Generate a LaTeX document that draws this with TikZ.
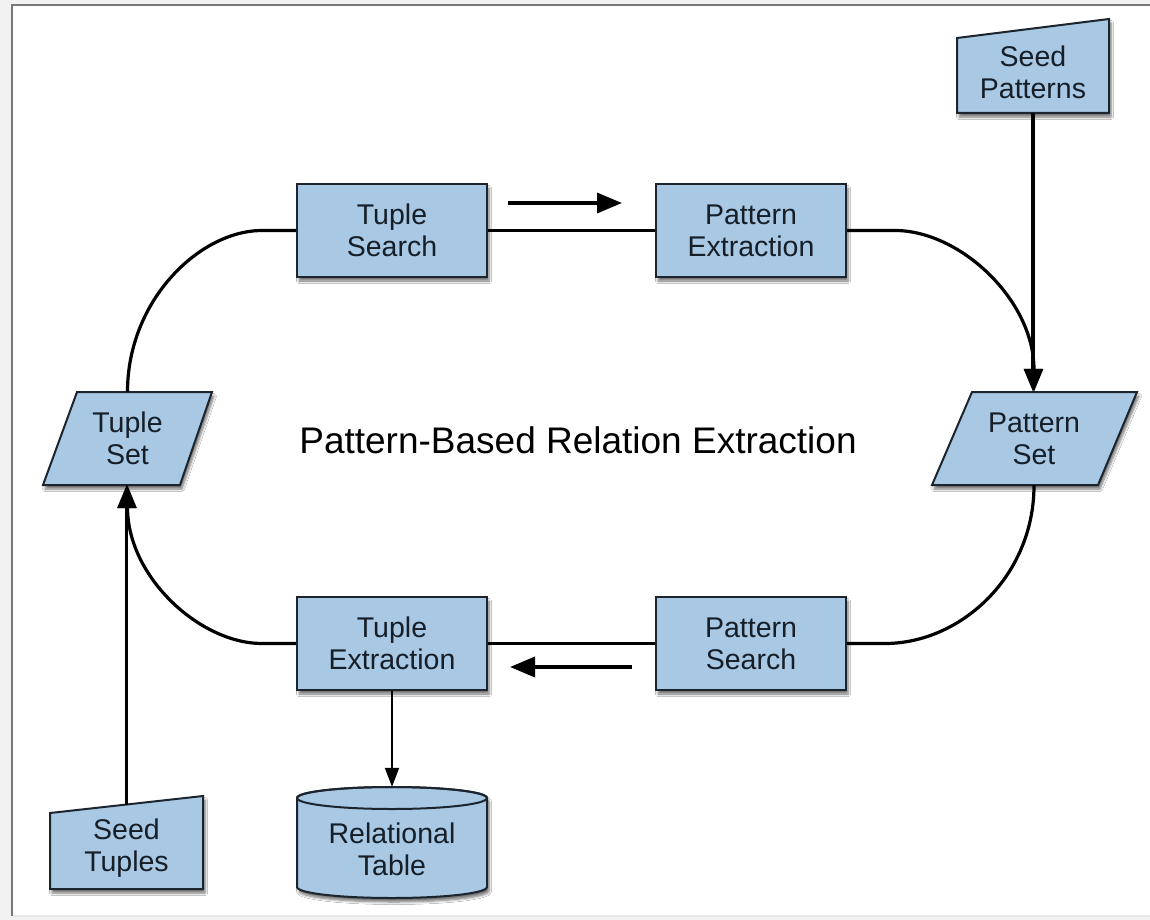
\documentclass[tikz,border=0pt]{standalone}
\usepackage{fontspec}
\setmainfont{Liberation Sans}
\usetikzlibrary{arrows.meta,shadows.blur}
\definecolor{boxblue}{RGB}{168,200,228}
\definecolor{edgec}{RGB}{28,36,46}
\definecolor{textc}{RGB}{22,30,40}
\definecolor{bggray}{RGB}{242,242,242}
\definecolor{framegray}{RGB}{120,120,120}
\definecolor{faintgray}{RGB}{232,232,232}
\begin{document}
\begin{tikzpicture}[x=1pt,y=-1pt,
  boxshadow/.style={blur shadow={shadow xshift=2pt,shadow yshift=-4pt,shadow opacity=55,shadow blur steps=6,shadow blur radius=2.5pt}},
  boxsh/.style={draw=edgec, line width=2pt, fill=boxblue, boxshadow},
  proc/.style={boxsh, rectangle, minimum width=190pt, minimum height=93pt, inner sep=0pt,
    align=center, font=\fontsize{28.5}{32}\selectfont, text=textc},
  lbl/.style={inner sep=0pt, align=center, font=\fontsize{28.5}{32}\selectfont, text=textc},
  loopline/.style={line width=3.2pt, draw=black},
  flowline/.style={loopline, -{Triangle[length=23pt,width=18pt]}},
  seedline/.style={line width=3.6pt, draw=black, -{Triangle[length=23pt,width=18pt]}},
  thinarrow/.style={line width=2pt, draw=black, -{Triangle[length=19pt,width=14pt]}},
  dirarrow/.style={line width=3.6pt, draw=black, -{Triangle[length=25pt,width=20pt]}},
]
\useasboundingbox (0,0) rectangle (1150,920);
% frame
\fill[bggray] (0,0) rectangle (1150,920);
\fill[white] (12,5) rectangle (1150,916);
\draw[faintgray, line width=1.5pt] (12,916) -- (1150,916);
\draw[framegray, line width=2pt] (12,916) -- (12,5) -- (1150,5);

% process boxes
\node[proc] (tsearch) at (392,230.5) {Tuple\\Search};
\node[proc] (pext) at (751,230.5) {Pattern\\Extraction};
\node[proc] (psearch) at (751,643.5) {Pattern\\Search};
\node[proc] (textr) at (392,643.5) {Tuple\\Extraction};

% parallelograms
\path[boxsh] (77,392) -- (212,392) -- (180,485) -- (43,485) -- cycle;
\node[lbl, minimum height=93pt, minimum width=10pt] (tset) at (127.5,438.5) {Tuple\\Set};
\path[boxsh] (972,392) -- (1137,392) -- (1098,485) -- (932,485) -- cycle;
\node[lbl, minimum height=93pt, minimum width=10pt] (pset) at (1034,438.5) {Pattern\\Set};

% seed inputs
\path[boxsh] (957,38) -- (1109,19) -- (1109,113) -- (957,113) -- cycle;
\node[lbl, minimum height=82pt] (spat) at (1033,72) {Seed\\Patterns};
\path[boxsh] (50,813) -- (203,796) -- (203,889) -- (50,889) -- cycle;
\node[lbl] (stup) at (126.5,848.5) {Seed\\Tuples};
\coordinate (stupin) at (126.5,805);

% relational table cylinder
\path[boxsh] (297,798) -- (297,887) .. controls (297,893.1) and (339.5,898) .. (392,898)
  .. controls (444.5,898) and (487,893.1) .. (487,887) -- (487,798)
  .. controls (487,791.9) and (444.5,787) .. (392,787)
  .. controls (339.5,787) and (297,791.9) .. (297,798) -- cycle;
\draw[edgec, line width=2pt] (392,798) ellipse (95pt and 11pt);
\node[lbl, minimum height=124pt] (rtab) at (392,849) {Relational\\Table};

% title
\node[font=\fontsize{37}{44}\selectfont, text=black] (title) at (578,440) {Pattern-Based Relation Extraction};

% loop connectors
\draw[loopline] (tset.north) .. controls (127.5,300) and (200,230.5) .. (262,230.5) -- (tsearch.west);
\draw[loopline] (tsearch.east) -- (pext.west);
\draw[flowline] (pext.east) -- (895,230.5) .. controls (960,230.5) and (1034,300) .. (pset.north);
\draw[loopline] (pset.south) .. controls (1034,577) and (960,643.5) .. (885,643.5) -- (psearch.east);
\draw[loopline] (psearch.west) -- (textr.east);
\draw[flowline] (textr.west) -- (262,643.5) .. controls (200,643.5) and (127.5,577) .. (tset.south);

% seed connectors
\draw[seedline] (spat.south) -- (spat.south |- pset.north);
\draw[seedline] (stupin) -- (stupin |- tset.south);
\draw[thinarrow] (textr.south) -- (rtab.north);

% direction arrows
\coordinate (a1s) at (508,203);
\coordinate (a1e) at (622,203);
\coordinate (a2s) at (632,667);
\coordinate (a2e) at (510,667);
\draw[dirarrow] (a1s) -- (a1e);
\draw[dirarrow] (a2s) -- (a2e);
\end{tikzpicture}
\end{document}
